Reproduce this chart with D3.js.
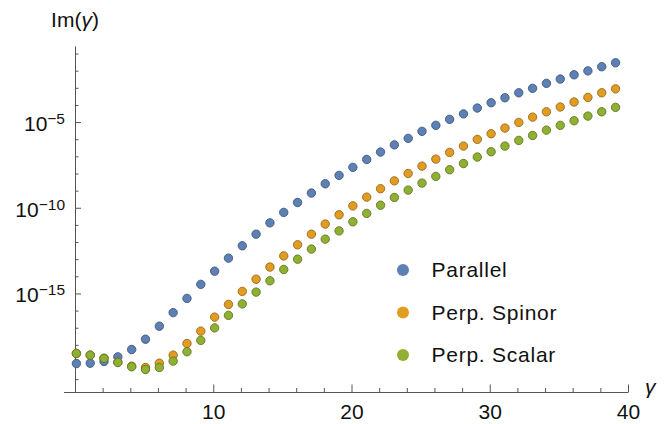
<!DOCTYPE html>
<html>
<head>
<meta charset="utf-8">
<script src="https://cdn.jsdelivr.net/npm/d3@7"></script>
<style>
  html, body { margin: 0; padding: 0; background: #fff; }
  svg { display: block; font-family: "Liberation Sans", Arial, Helvetica, sans-serif; }
</style>
</head>
<body>
<div id="chart"></div>
<script>
// gamma positions of the points
const gamma = [0.1, 1.1, 2.1, 3.1, 4.1, 5.1, 6.1, 7.1, 8.1, 9.1,
  10.1, 11.1, 12.1, 13.1, 14.1, 15.1, 16.1, 17.1, 18.1, 19.1,
  20.1, 21.1, 22.1, 23.1, 24.1, 25.1, 26.1, 27.1, 28.1, 29.1,
  30.1, 31.1, 32.1, 33.1, 34.1, 35.1, 36.1, 37.1, 38.1, 39.1];

// log10 of Im(gamma) for each series
const parallelExp = [-19.09, -19.07, -18.97, -18.70, -18.27, -17.67, -16.91, -16.12, -15.29, -14.47,
  -13.70, -12.94, -12.22, -11.54, -10.88, -10.27, -9.69, -9.14, -8.60, -8.11,
  -7.64, -7.18, -6.75, -6.33, -5.95, -5.54, -5.19, -4.84, -4.52, -4.18,
  -3.87, -3.58, -3.29, -3.03, -2.74, -2.49, -2.24, -2.01, -1.77, -1.54];

const spinorExp = [-18.50, -18.60, -18.78, -19.01, -19.24, -19.32, -19.07, -18.60, -17.92, -17.20,
  -16.38, -15.64, -14.88, -14.17, -13.46, -12.81, -12.16, -11.54, -10.95, -10.41,
  -9.89, -9.38, -8.89, -8.43, -8.00, -7.57, -7.16, -6.77, -6.40, -6.01,
  -5.68, -5.35, -5.02, -4.71, -4.40, -4.12, -3.83, -3.56, -3.29, -3.06];

const scalarExp = [-18.50, -18.60, -18.79, -19.03, -19.28, -19.44, -19.32, -18.95, -18.40, -17.74,
  -17.01, -16.28, -15.61, -14.92, -14.26, -13.60, -13.00, -12.41, -11.83, -11.35,
  -10.82, -10.33, -9.85, -9.40, -8.97, -8.56, -8.17, -7.78, -7.42, -7.04,
  -6.73, -6.40, -6.07, -5.78, -5.47, -5.19, -4.92, -4.65, -4.40, -4.14];

const seriesNames = ['Parallel', 'Perp. Spinor', 'Perp. Scalar'];
const seriesColors = ['#5e81b5', '#e19c24', '#8fb032'];

const xMajorTicks = [10, 20, 30, 40];
const xMinorTicks = [2, 4, 6, 8, 12, 14, 16, 18, 22, 24, 26, 28, 32, 34, 36, 38];
const yMajorExp = [-5, -10, -15];
const yMinorExp = [-1, -2, -3, -4, -6, -7, -8, -9, -11, -12, -13, -14, -16, -17, -18, -19, -20];

const width = 668, height = 424;

const svg = d3.select('#chart').append('svg')
  .attr('width', width)
  .attr('height', height)
  .attr('viewBox', [0, 0, width, height]);

svg.append('rect').attr('width', width).attr('height', height).attr('fill', '#fff');

const x = d3.scaleLinear().domain([0, 40]).range([75, 628]);
const y = d3.scaleLog().domain([Math.pow(10, -20.78), Math.pow(10, -0.56)]).range([392.5, 46]);

const axisColor = '#555';
const labelColor = '#111';

// x axis
const xAxisY = y.range()[0];
svg.append('line')
  .attr('x1', x(-0.8)).attr('x2', x(40))
  .attr('y1', xAxisY).attr('y2', xAxisY)
  .attr('stroke', axisColor).attr('stroke-width', 1);

const gxMinor = svg.append('g')
  .attr('transform', `translate(0,${xAxisY})`)
  .call(d3.axisBottom(x).tickValues(xMinorTicks).tickSize(-4.5).tickFormat(''));
const gxMajor = svg.append('g')
  .attr('transform', `translate(0,${xAxisY})`)
  .call(d3.axisBottom(x).tickValues(xMajorTicks).tickSize(-8).tickPadding(12).tickFormat(d3.format('d')));

[gxMinor, gxMajor].forEach(g => {
  g.select('.domain').remove();
  g.selectAll('.tick line').attr('stroke', axisColor);
  g.selectAll('.tick text')
    .attr('fill', labelColor)
    .style('font-size', '21px')
    .style('font-family', '"Liberation Sans", Arial, sans-serif');
});

// y axis
const gyMinor = svg.append('g')
  .attr('transform', `translate(${x(0)},0)`)
  .call(d3.axisLeft(y).tickValues(yMinorExp.map(e => Math.pow(10, e))).tickSize(-3.5).tickFormat(''));
gyMinor.select('.domain').remove();
gyMinor.selectAll('.tick line').attr('stroke', axisColor);

const gyMajor = svg.append('g')
  .attr('transform', `translate(${x(0)},0)`)
  .call(d3.axisLeft(y).tickValues(yMajorExp.map(e => Math.pow(10, e)))
    .tickSize(-6).tickSizeOuter(0).tickPadding(10).tickFormat(''));
gyMajor.select('.domain').attr('stroke', axisColor);
gyMajor.selectAll('.tick line').attr('stroke', axisColor);

gyMajor.selectAll('.tick text')
  .attr('fill', labelColor)
  .attr('dy', '0.4em')
  .style('font-size', '21px')
  .style('font-family', '"Liberation Sans", Arial, sans-serif')
  .each(function(d, i) {
    const t = d3.select(this);
    t.append('tspan').text('10');
    t.append('tspan')
      .attr('dy', -7)
      .style('font-size', '15.5px')
      .text('\u2212' + Math.abs(yMajorExp[i]));
  });

// axis labels
svg.append('text')
  .attr('x', x(0)).attr('y', 27)
  .attr('text-anchor', 'middle')
  .attr('fill', labelColor)
  .style('font-size', '21px')
  .call(t => {
    t.append('tspan').text('Im(');
    t.append('tspan').style('font-style', 'italic').text('\u03b3');
    t.append('tspan').text(')');
  });

svg.append('text')
  .attr('x', 645).attr('y', 394)
  .attr('fill', labelColor)
  .style('font-size', '21px')
  .style('font-style', 'italic')
  .text('\u03b3');

// points
const allSeries = [parallelExp, spinorExp, scalarExp];
allSeries.forEach((values, s) => {
  svg.append('g')
    .selectAll('circle')
    .data(values)
    .enter().append('circle')
    .attr('cx', (d, i) => x(gamma[i]))
    .attr('cy', d => y(Math.pow(10, d)))
    .attr('r', 4.2)
    .attr('fill', seriesColors[s])
    .attr('stroke', d3.color(seriesColors[s]).darker(1.1))
    .attr('stroke-width', 0.9);
});

// legend
const legend = svg.append('g').attr('transform', 'translate(403,270)');
const item = legend.selectAll('g')
  .data(seriesNames)
  .enter().append('g')
  .attr('transform', (d, i) => `translate(0,${i * 42.5})`);
item.append('circle')
  .attr('r', 6)
  .attr('fill', (d, i) => seriesColors[i]);
item.append('text')
  .attr('x', 28.5).attr('y', 7.3)
  .attr('fill', labelColor)
  .style('font-size', '21px')
  .style('letter-spacing', '0.75px')
  .text(d => d);
</script>
</body>
</html>
